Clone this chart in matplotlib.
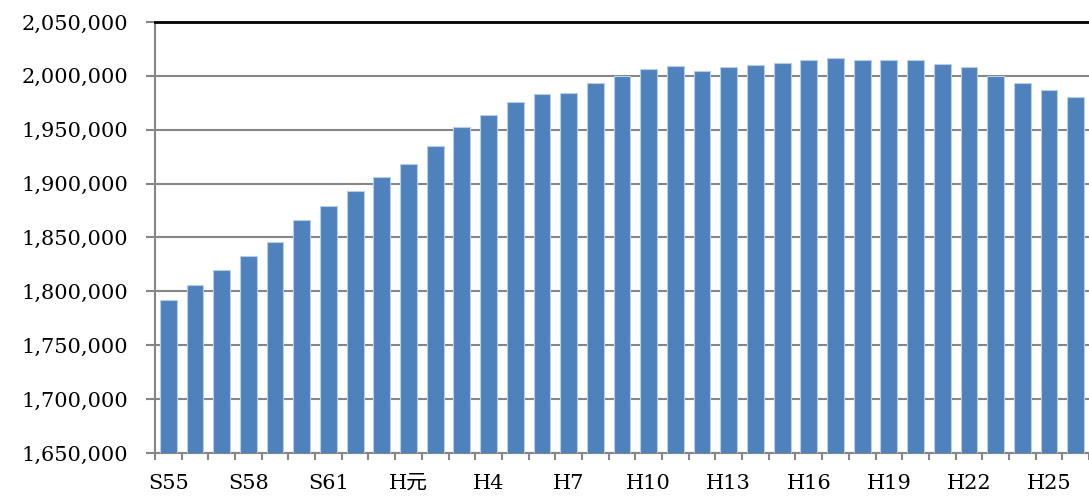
import matplotlib
matplotlib.use("Agg")
import matplotlib.pyplot as plt
from matplotlib.ticker import FuncFormatter, FixedLocator

# years S55 .. H26
years = (["S55", "S56", "S57", "S58", "S59", "S60", "S61", "S62", "S63", "H元"]
         + ["H%d" % n for n in range(2, 27)])
population = [
    1792000, 1806200, 1819900, 1832800, 1846000, 1865800, 1879100, 1892900,
    1905900, 1918300, 1934900, 1952100, 1963900, 1975700, 1983100, 1984500,
    1993200, 2000300, 2006200, 2009000, 2004700, 2008700, 2010200, 2011800,
    2014600, 2016500, 2014900, 2014900, 2014300, 2010900, 2007800, 2000000,
    1993500, 1987000, 1980800,
]
label_every = 3

plt.rcParams['font.family'] = ['DejaVu Serif', 'Noto Sans CJK JP']

fig = plt.figure(figsize=(10.89, 5.01), dpi=100)
ax = fig.add_axes([155 / 1089, 48 / 501, 1 - 155 / 1089, 431 / 501])

x = list(range(len(years)))
ax.bar(x, population, width=0.63, color='#4F81BD', edgecolor='#B9CDE5',
       linewidth=0.8, zorder=3)

ax.set_xlim(-0.5, len(years) - 0.5)
ax.set_ylim(1650000, 2050000)
ax.set_yticks(range(1650000, 2050001, 50000))
ax.yaxis.set_major_formatter(FuncFormatter(lambda v, p: f"{int(v):,}"))
ax.grid(axis='y', color='#868686', linewidth=1.5, zorder=0)
ax.set_axisbelow(True)

ax.set_xticks(x[::label_every])
ax.set_xticklabels(years[::label_every])
ax.xaxis.set_minor_locator(FixedLocator([i - 0.5 for i in range(len(years) + 1)]))
ax.tick_params(axis='x', which='major', length=0, pad=15, labelsize=15)
ax.tick_params(axis='x', which='minor', length=5, width=1.5, color='#868686')
ax.tick_params(axis='y', length=6.5, width=1.5, color='#868686', pad=13,
               labelsize=15)

for s in ('left', 'bottom'):
    ax.spines[s].set_color('#868686')
    ax.spines[s].set_linewidth(1.5)
ax.spines['right'].set_visible(False)
ax.spines['top'].set_color('black')
ax.spines['top'].set_linewidth(2)

fig.savefig("out.png", dpi=100)
